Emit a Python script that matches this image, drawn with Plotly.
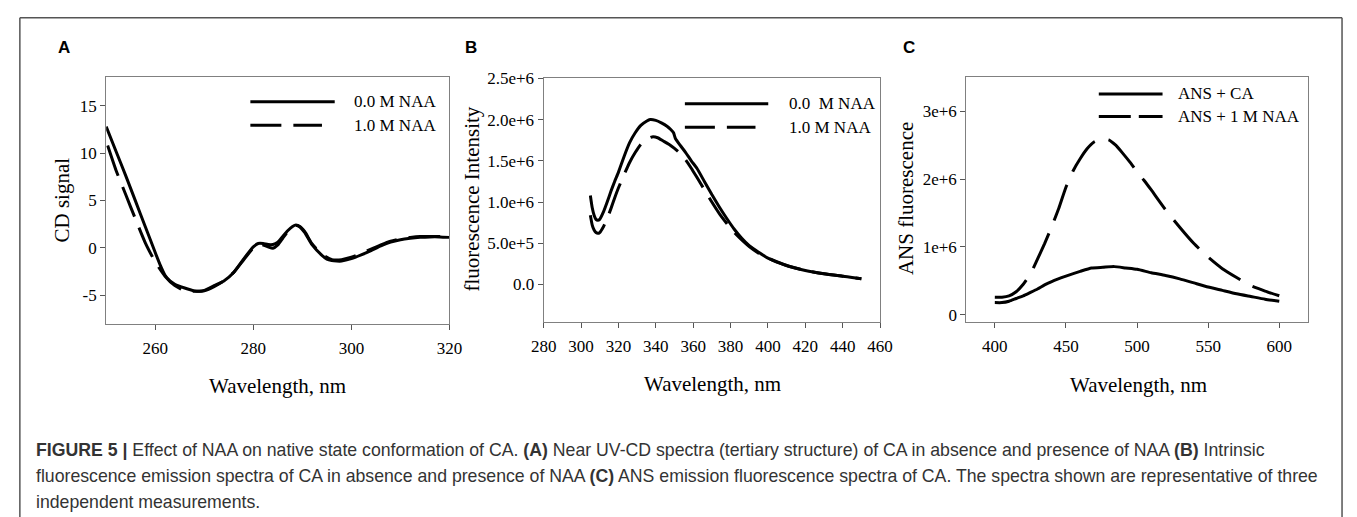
import plotly.graph_objects as go

# ---------------- data ----------------
# Panel A: near UV-CD
cd_wl_0 = [250, 252, 254, 256, 258, 260, 261, 262, 263, 264, 266, 268, 269, 270, 272, 274, 276, 278, 280,
           281, 282, 283, 284, 285, 286, 287, 288, 288.7, 289.5, 290.5, 292, 294, 295, 296, 297, 298, 300,
           302, 304, 306, 308, 310, 312, 314, 316, 318, 320]
cd_0 = [12.8, 10.2, 7.6, 4.9, 2.2, -0.5, -1.8, -2.9, -3.5, -3.85, -4.25, -4.55, -4.6, -4.5, -4.0, -3.5, -2.6,
        -1.2, 0.1, 0.45, 0.45, 0.35, 0.35, 0.6, 1.2, 1.8, 2.25, 2.4, 2.2, 1.6, 0.3, -0.8, -1.2, -1.35, -1.4,
        -1.4, -1.15, -0.75, -0.3, 0.2, 0.6, 0.85, 1.0, 1.1, 1.15, 1.15, 1.1]
cd_wl_1 = [250.3, 252, 254, 256, 258, 260, 262, 264, 266, 268, 270, 272, 274, 276, 278, 280, 281, 282, 283,
           284, 285, 286, 287, 288, 288.7, 289.5, 290.5, 292, 294, 296, 297, 298, 300, 302, 304, 306, 308,
           310, 312, 314, 316, 318, 320]
cd_1 = [10.8, 8.2, 5.6, 3.0, 0.5, -1.5, -3.0, -4.0, -4.55, -4.6, -4.55, -4.1, -3.5, -2.6, -1.3, 0.0, 0.35,
        0.3, 0.1, -0.05, 0.3, 1.0, 1.7, 2.2, 2.35, 2.25, 1.7, 0.4, -0.7, -1.25, -1.3, -1.25, -1.0, -0.6,
        -0.15, 0.3, 0.7, 0.95, 1.1, 1.2, 1.2, 1.2, 1.2]

# Panel B: intrinsic fluorescence
fl_wl_0 = [305, 306, 307, 308, 309, 310, 312, 314, 316, 318, 320, 323, 326, 329, 332, 335, 337, 340, 343,
           346, 348, 349.5, 350.5, 353, 356, 359, 362, 366, 370, 374, 378, 382, 386, 390, 395, 400, 410,
           420, 430, 440, 445, 450]
fl_0 = [1.08e6, 0.93e6, 0.84e6, 0.79e6, 0.78e6, 0.79e6, 0.88e6, 1.0e6, 1.13e6, 1.25e6, 1.36e6, 1.55e6,
        1.72e6, 1.84e6, 1.93e6, 1.98e6, 2.0e6, 1.99e6, 1.96e6, 1.92e6, 1.88e6, 1.84e6, 1.77e6, 1.69e6,
        1.60e6, 1.50e6, 1.41e6, 1.25e6, 1.09e6, 0.94e6, 0.80e6, 0.67e6, 0.56e6, 0.47e6, 0.39e6, 0.32e6,
        0.23e6, 0.17e6, 0.13e6, 0.10e6, 0.085e6, 0.07e6]
fl_wl_1 = [305, 306, 307, 308, 309, 310, 312, 314, 316, 318, 320, 323, 326, 329, 332, 335, 338, 341, 344,
           347, 350, 353, 356, 359, 362, 366, 370, 374, 378, 382, 386, 390, 395, 400, 410, 420, 430, 440,
           445, 450]
fl_1 = [0.84e6, 0.72e6, 0.66e6, 0.63e6, 0.62e6, 0.63e6, 0.70e6, 0.80e6, 0.92e6, 1.05e6, 1.17e6, 1.33e6,
        1.48e6, 1.60e6, 1.70e6, 1.76e6, 1.79e6, 1.78e6, 1.74e6, 1.70e6, 1.65e6, 1.59e6, 1.51e6, 1.41e6,
        1.30e6, 1.15e6, 1.00e6, 0.86e6, 0.74e6, 0.63e6, 0.54e6, 0.46e6, 0.38e6, 0.32e6, 0.23e6, 0.17e6,
        0.13e6, 0.10e6, 0.085e6, 0.07e6]

# Panel C: ANS fluorescence
ans_wl = [400, 405, 410, 415, 420, 425, 430, 435, 440, 450, 460, 468, 476, 484, 492, 500, 510, 520, 530,
          540, 550, 560, 570, 580, 590, 600]
ans_ca = [0.18e6, 0.18e6, 0.20e6, 0.24e6, 0.28e6, 0.33e6, 0.38e6, 0.44e6, 0.49e6, 0.57e6, 0.64e6, 0.69e6,
          0.70e6, 0.71e6, 0.69e6, 0.67e6, 0.62e6, 0.58e6, 0.53e6, 0.47e6, 0.41e6, 0.36e6, 0.31e6, 0.27e6,
          0.23e6, 0.20e6]
ans_naa_wl = [400, 405, 410, 415, 420, 425, 430, 435, 440, 445, 450, 455, 460, 465, 470, 475, 480, 485,
              490, 495, 500, 505, 510, 520, 530, 540, 550, 560, 570, 580, 590, 600]
ans_naa = [0.26e6, 0.26e6, 0.28e6, 0.34e6, 0.45e6, 0.60e6, 0.82e6, 1.05e6, 1.30e6, 1.57e6, 1.88e6, 2.12e6,
           2.30e6, 2.45e6, 2.55e6, 2.59e6, 2.58e6, 2.50e6, 2.38e6, 2.25e6, 2.11e6, 1.98e6, 1.84e6, 1.55e6,
           1.29e6, 1.05e6, 0.85e6, 0.68e6, 0.55e6, 0.43e6, 0.35e6, 0.28e6]

# tick labels
a_xticks = [260, 280, 300, 320]
a_yticks = [-5, 0, 5, 10, 15]
a_yticktext = ["-5", "0", "5", "10", "15"]
b_xticks = [280, 300, 320, 340, 360, 380, 400, 420, 440, 460]
b_yticks = [0, 0.5e6, 1.0e6, 1.5e6, 2.0e6, 2.5e6]
b_yticktext = ["0.0", "5.0e+5", "1.0e+6", "1.5e+6", "2.0e+6", "2.5e+6"]
c_xticks = [400, 450, 500, 550, 600]
c_yticks = [0, 1e6, 2e6, 3e6]
c_yticktext = ["0", "1e+6", "2e+6", "3e+6"]

legend_a = ["0.0 M NAA", "1.0 M NAA"]
legend_b = ["0.0  M NAA", "1.0 M NAA"]
legend_c = ["ANS + CA", "ANS + 1 M NAA"]

caption_lines = [
    "<b>FIGURE 5 |</b> Effect of NAA on native state conformation of CA. <b>(A)</b> Near UV-CD spectra "
    "(tertiary structure) of CA in absence and presence of NAA <b>(B)</b> Intrinsic",
    "fluorescence emission spectra of CA in absence and presence of NAA <b>(C)</b> ANS emission fluorescence "
    "spectra of CA. The spectra shown are representative of three",
    "independent measurements.",
]

# ---------------- layout helpers ----------------
W, H = 1357, 517
def px(x):
    return x / W
def py(y):
    return 1 - y / H

SERIF = "Liberation Serif"
SANS = "Liberation Sans"
DASH_AB = "32px,12px"
DASH_C = "38px,14px"
LW = 3

fig = go.Figure()

def add_line(x, y, xa, ya, dash):
    fig.add_trace(go.Scatter(x=x, y=y, xaxis=xa, yaxis=ya, mode="lines",
                             line=dict(color="black", width=LW, dash=dash, shape="spline", smoothing=0.5),
                             showlegend=False, hoverinfo="skip"))

add_line(cd_wl_0, cd_0, "x", "y", "solid")
add_line(cd_wl_1, cd_1, "x", "y", DASH_AB)
add_line(fl_wl_0, fl_0, "x2", "y2", "solid")
add_line(fl_wl_1, fl_1, "x2", "y2", DASH_AB)
add_line(ans_wl, ans_ca, "x3", "y3", "solid")
add_line(ans_naa_wl, ans_naa, "x3", "y3", DASH_C)

axis_common = dict(showline=True, mirror=True, linecolor="#808080", linewidth=1.2,
                   ticks="outside", ticklen=5, tickcolor="#555", tickwidth=1,
                   showgrid=False, zeroline=False,
                   tickfont=dict(family=SERIF, size=17, color="black"))
xax = dict(axis_common, ticklabelstandoff=4)
yax = dict(axis_common)

# Panel boxes (pixels)
A = (95, 445, 70, 322)
B = (541, 884, 71, 320)
C = (972, 1320, 70, 320)

fig.update_layout(
    width=W, height=H, margin=dict(l=0, r=0, t=0, b=0),
    paper_bgcolor="white", plot_bgcolor="white",
    xaxis=dict(domain=[px(A[0]), px(A[1])], range=[250, 320], tickvals=a_xticks, anchor="y", **xax),
    yaxis=dict(domain=[py(A[3]), py(A[2])], range=[-8, 18], tickvals=a_yticks, ticktext=a_yticktext,
               anchor="x", **yax),
    xaxis2=dict(domain=[px(B[0]), px(B[1])], range=[280, 460], tickvals=b_xticks, anchor="y2", **xax),
    yaxis2=dict(domain=[py(B[3]), py(B[2])], range=[-0.45e6, 2.5e6], tickvals=b_yticks,
                ticktext=b_yticktext, anchor="x2", **yax),
    xaxis3=dict(domain=[px(C[0]), px(C[1])], range=[380, 620], tickvals=c_xticks, anchor="y3", **xax),
    yaxis3=dict(domain=[py(C[3]), py(C[2])], range=[-0.1e6, 3.5e6], tickvals=c_yticks,
                ticktext=c_yticktext, anchor="x3", **yax),
)

shapes = []
annotations = []

# outer frame (left, top, right)
frame = dict(type="line", xref="paper", yref="paper", line=dict(color="#555", width=1.5))
shapes.append(dict(frame, x0=px(7), x1=px(7), y0=py(9), y1=py(530)))
shapes.append(dict(frame, x0=px(7), x1=px(1355), y0=py(9), y1=py(9)))
shapes.append(dict(frame, x0=px(1355), x1=px(1355), y0=py(9), y1=py(530)))

# legends
def legend(x0, x1, x1d, ytop, ybot, xtext, labels, dash, size=17):
    for yy, dsh, xe, lab in [(ytop, "solid", x1, labels[0]), (ybot, dash, x1d, labels[1])]:
        shapes.append(dict(type="line", xref="paper", yref="paper", x0=px(x0), x1=px(xe),
                           y0=py(yy), y1=py(yy), line=dict(color="black", width=LW, dash=dsh)))
        annotations.append(dict(x=px(xtext), y=py(yy), xref="paper", yref="paper", text=lab,
                                showarrow=False, xanchor="left", yanchor="middle",
                                font=dict(family=SERIF, size=size, color="black")))

legend(242, 328, 315, 95, 119, 346, legend_a, "31px,12px")
legend(685, 770, 757, 97, 121, 789, legend_b, "30px,12px")
legend(1107, 1172, 1172, 87, 110, 1186, legend_c, "32px,8px")

# panel letters
for lab, x, y in [("A", 52, 39), ("B", 467, 39), ("C", 914, 39)]:
    annotations.append(dict(x=px(x), y=py(y), xref="paper", yref="paper", text="<b>%s</b>" % lab,
                            showarrow=False, xanchor="center", yanchor="middle",
                            font=dict(family=SANS, size=17, color="black")))

# axis titles
for text, x, y, ang in [("Wavelength, nm", 270, 386, 0), ("CD signal", 50, 196, -90),
                        ("Wavelength, nm", 713, 384, 0), ("fluorescence Intensity", 468, 195, -90),
                        ("Wavelength, nm", 1147, 385, 0), ("ANS fluorescence", 911, 194, -90)]:
    annotations.append(dict(x=px(x), y=py(y), xref="paper", yref="paper", text=text, textangle=ang,
                            showarrow=False, xanchor="center", yanchor="middle",
                            font=dict(family=SERIF, size=21, color="black")))

# caption
for i, line in enumerate(caption_lines):
    annotations.append(dict(x=px(21), y=py(451 + 27 * i), xref="paper", yref="paper", text=line,
                            showarrow=False, xanchor="left", yanchor="middle", align="left",
                            font=dict(family=SANS, size=17.7, color="#333")))

fig.update_layout(shapes=shapes, annotations=annotations)
fig.write_html("out.html", config={"displayModeBar": False},
               post_script="document.body.style.margin='0';document.body.style.overflow='hidden';")
